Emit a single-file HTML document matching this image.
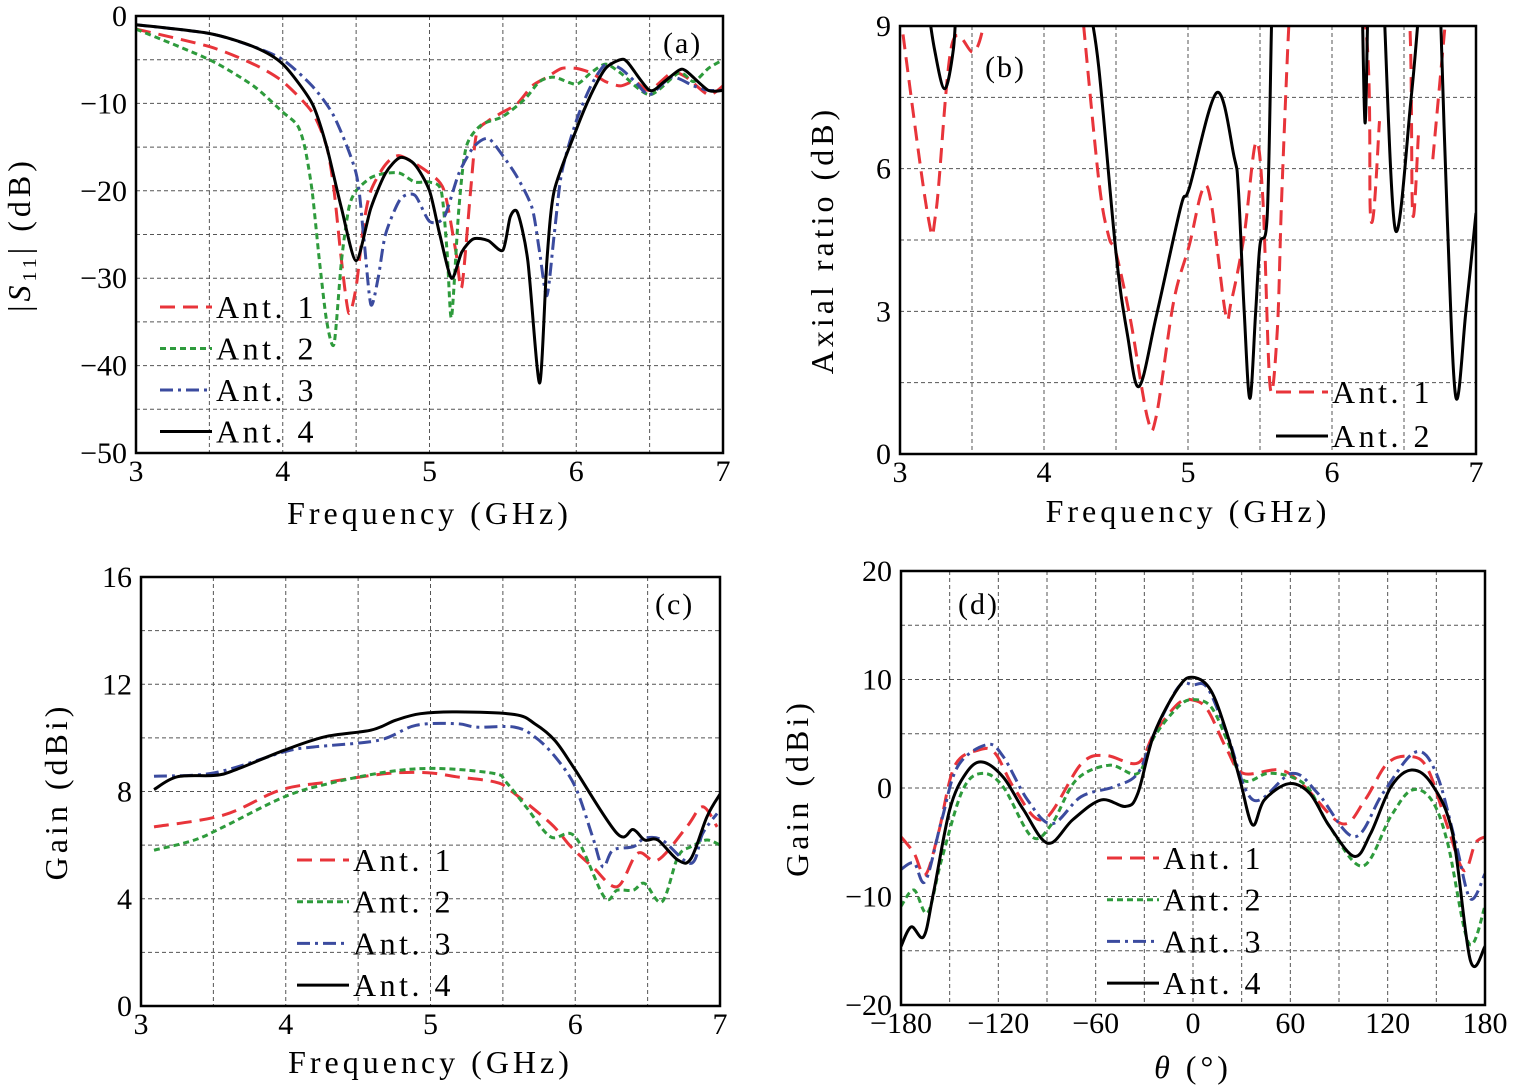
<!DOCTYPE html>
<html><head><meta charset="utf-8"><style>
html,body{margin:0;padding:0;background:#fff;}
svg{display:block;font-family:"Liberation Serif",serif;}
</style></head><body>
<svg id="s" width="1514" height="1086" xmlns="http://www.w3.org/2000/svg"></svg>
<script>
const S=document.getElementById('s');let H='';
const st={1:'stroke="#e8343a" stroke-dasharray="15,8"',2:'stroke="#2e9b3c" stroke-dasharray="6,4"',3:'stroke="#3b4b9f" stroke-dasharray="13,5,3,5"',4:'stroke="#000"'};
function panel(o){
 const {L,R,T,B,x0,x1,y0,y1,id}=o;
 const X=v=>L+(v-x0)/(x1-x0)*(R-L), Y=v=>B-(v-y0)/(y1-y0)*(B-T);
 H+=`<defs><clipPath id="c${id}"><rect x="${L}" y="${T}" width="${R-L}" height="${B-T}"/></clipPath></defs>`;
 for(let v=x0+o.gx;v<x1-1e-9;v+=o.gx)H+=`<line x1="${X(v)}" x2="${X(v)}" y1="${T}" y2="${B}" stroke="#555" stroke-width="1" stroke-dasharray="4,3"/>`;
 for(let v=y0+o.gy;v<y1-1e-9;v+=o.gy)H+=`<line x1="${L}" x2="${R}" y1="${Y(v)}" y2="${Y(v)}" stroke="#555" stroke-width="1" stroke-dasharray="4,3"/>`;
 for(const s of o.series){
  const p=s.d.map(q=>[X(q[0]),Y(q[1])]);let d='';
  for(const seg of (s.segs||[[0,p.length]])){
   const pp=p.slice(seg[0],seg[1]);d+=`M${pp[0][0].toFixed(1)},${pp[0][1].toFixed(1)}`;
   for(let i=0;i<pp.length-1;i++){const a=pp[Math.max(0,i-1)],b=pp[i],c=pp[i+1],e=pp[Math.min(pp.length-1,i+2)];const k=o.sm??6;
    d+=`C${(b[0]+(c[0]-a[0])/k).toFixed(1)},${(b[1]+(c[1]-a[1])/k).toFixed(1)} ${(c[0]-(e[0]-b[0])/k).toFixed(1)},${(c[1]-(e[1]-b[1])/k).toFixed(1)} ${c[0].toFixed(1)},${c[1].toFixed(1)}`;}
  }
  H+=`<path d="${d}" fill="none" stroke-width="3" ${st[s.t]} clip-path="url(#c${id})" stroke-linejoin="round"/>`;
 }
 H+=`<rect x="${L}" y="${T}" width="${R-L}" height="${B-T}" fill="none" stroke="#000" stroke-width="2.5"/>`;
 for(const [v,t] of o.xt)H+=`<text x="${X(v)}" y="${B+28}" font-size="30" text-anchor="middle">${t}</text>`;
 for(const [v,t] of o.yt)H+=`<text x="${L-9}" y="${Y(v)+10}" font-size="30" text-anchor="end">${t}</text>`;
 H+=`<text x="${(L+R)/2}" y="${o.xly}" font-size="32" letter-spacing="4" text-anchor="middle">${o.xl}</text>`;
 H+=`<text transform="translate(${o.ylx},${(T+B)/2}) rotate(-90)" font-size="32" letter-spacing="4" text-anchor="middle">${o.yl}</text>`;
 H+=`<text x="${o.pl[0]}" y="${o.pl[1]}" font-size="30" letter-spacing="2">${o.pl[2]}</text>`;
 o.leg.forEach((t,i)=>{const y=o.lg[1]+i*o.lg[3];const n=o.ln?o.ln[i]:t;H+=`<line x1="${o.lg[0]}" x2="${o.lg[0]+52}" y1="${y}" y2="${y}" stroke-width="3" ${st[t]}/><text x="${o.lg[0]+56}" y="${y+11}" font-size="32" letter-spacing="3.5">Ant. ${n}</text>`;});
}
const M='&#8722;';
panel({id:'a',L:136,R:723,T:16,B:453,x0:3,x1:7,y0:-50,y1:0,gx:0.5,gy:5,sm:8,
xt:[[3,3],[4,4],[5,5],[6,6],[7,7]],yt:[[0,'0'],[-10,M+'10'],[-20,M+'20'],[-30,M+'30'],[-40,M+'40'],[-50,M+'50']],
xl:'Frequency (GHz)',xly:524,yl:'|<tspan font-style="italic">S</tspan><tspan font-size="20" dy="6">11</tspan><tspan dy="-6">| (dB)</tspan>',ylx:30,pl:[663,53,'(a)'],
leg:[1,2,3,4],lg:[160,307,0,41.5],
series:[
{t:1,d:[[3,-1.5],[3.5,-3.5],[3.8,-5.5],[4,-7.5],[4.2,-11],[4.3,-15],[4.35,-20],[4.4,-28],[4.45,-34],[4.5,-31],[4.55,-24],[4.6,-20],[4.7,-17],[4.8,-16],[5,-18],[5.1,-20],[5.18,-27],[5.22,-31],[5.28,-20],[5.32,-13.5],[5.4,-12],[5.5,-11],[5.6,-10],[5.7,-8],[5.8,-7],[5.9,-6],[6,-6],[6.1,-6.5],[6.2,-7.5],[6.3,-8],[6.4,-7.5],[6.5,-8.5],[6.65,-6.5],[6.75,-7],[6.9,-9],[7,-8]]},
{t:2,d:[[3,-1.5],[3.5,-5],[3.8,-8],[4,-11],[4.1,-12.5],[4.15,-15],[4.2,-20],[4.25,-28],[4.3,-35],[4.35,-37.5],[4.4,-28],[4.45,-22],[4.5,-20],[4.6,-18.5],[4.7,-18],[4.8,-18],[4.9,-19],[5,-19],[5.08,-20],[5.12,-27],[5.15,-34.5],[5.2,-22],[5.25,-15],[5.35,-12.5],[5.5,-11.5],[5.65,-9.5],[5.75,-7.5],[5.85,-7],[6,-7.8],[6.1,-6.5],[6.2,-5.5],[6.3,-6.5],[6.5,-9],[6.7,-6.5],[6.8,-7.5],[6.9,-6],[7,-5]]},
{t:3,d:[[3,-1],[3.5,-2],[3.8,-3.5],[4,-5],[4.2,-8],[4.35,-11.5],[4.5,-18],[4.55,-25],[4.6,-33],[4.65,-30],[4.7,-25],[4.8,-21],[4.9,-20.5],[5,-23.5],[5.1,-23],[5.2,-18],[5.3,-15],[5.4,-14],[5.5,-16],[5.6,-18.5],[5.7,-22],[5.75,-27],[5.8,-32],[5.85,-25],[5.9,-18],[6,-12],[6.1,-8],[6.2,-5.5],[6.3,-6],[6.4,-7.5],[6.5,-9],[6.65,-7],[6.8,-8],[6.9,-8.5],[7,-8.5]]},
{t:4,d:[[3,-1],[3.5,-2],[3.8,-3.5],[4,-5.5],[4.2,-10],[4.3,-15],[4.4,-22],[4.5,-28],[4.6,-22],[4.7,-18],[4.8,-16.2],[4.9,-17],[5,-20],[5.07,-25],[5.15,-30],[5.22,-27],[5.3,-25.5],[5.4,-25.7],[5.5,-26.8],[5.55,-23],[5.6,-22.5],[5.67,-28],[5.75,-42],[5.8,-28],[5.85,-20],[6,-13],[6.1,-9],[6.2,-6],[6.3,-5],[6.35,-5.3],[6.5,-8.5],[6.6,-7.5],[6.7,-6.2],[6.75,-6.3],[6.9,-8.5],[7,-8.5]]}]});
panel({id:'b',L:900,R:1476,T:26,B:454,x0:3,x1:7,y0:0,y1:9,gx:0.5,gy:1.5,
xt:[[3,3],[4,4],[5,5],[6,6],[7,7]],yt:[[0,'0'],[3,'3'],[6,'6'],[9,'9']],
xl:'Frequency (GHz)',xly:522,yl:'Axial ratio (dB)',ylx:833,pl:[985,77,'(b)'],
leg:[1,4],ln:[1,2],lg:[1276,392,0,44],
series:[
{t:1,segs:[[0,7],[7,31],[31,35],[35,40]],d:[[3,9.3],[3.19,5.07],[3.25,5.1],[3.36,8.6],[3.51,8.45],[3.58,9],[3.6,9.5],
[4.26,9.5],[4.38,5.77],[4.45,4.57],[4.5,4.23],[4.6,2.83],[4.72,0.74],[4.78,0.8],[4.9,3.2],[5.01,4.4],[5.1,5.55],[5.16,5.3],[5.26,2.97],[5.3,3.2],[5.39,4.6],[5.47,6.54],[5.52,5.35],[5.57,1.42],[5.62,2.6],[5.65,5.35],[5.7,9],[5.72,9.5],
[6.2,9.5],[6.27,4.92],[6.33,7],[6.38,9.5],
[6.53,9.5],[6.56,5.07],[6.6,6.7],[6.7,6.2],[6.8,9.5]]},
{t:4,segs:[[0,5],[5,23],[23,28],[28,32]],d:[[3.19,9.5],[3.24,8.5],[3.31,7.68],[3.37,8.5],[3.39,9.5],
[4.31,9.5],[4.38,8.14],[4.5,4.23],[4.58,2.5],[4.66,1.42],[4.78,2.9],[4.95,5.2],[5.01,5.6],[5.2,7.6],[5.32,6.25],[5.35,5.56],[5.39,3],[5.43,1.17],[5.47,3],[5.5,4.4],[5.55,5],[5.58,9],[5.59,9.6],
[6.21,9.5],[6.23,6.96],[6.25,9.5],[6.26,9.7],[6.27,9.7],
[6.36,9.5],[6.44,4.71],[6.55,7.5],[6.61,9.6]]},
{t:4,d:[[6.75,9.6],[6.8,5],[6.86,1.2],[6.93,3],[7,5.07]]}]});
panel({id:'c',L:141,R:720,T:577,B:1006,x0:3,x1:7,y0:0,y1:16,gx:0.5,gy:2,
xt:[[3,3],[4,4],[5,5],[6,6],[7,7]],yt:[[0,'0'],[4,'4'],[8,'8'],[12,'12'],[16,'16']],
xl:'Frequency (GHz)',xly:1073,yl:'Gain (dBi)',ylx:67,pl:[655,614,'(c)'],
leg:[1,2,3,4],lg:[297,860,0,41.7],
series:[
{t:1,d:[[3.09,6.68],[3.57,7.12],[3.96,8.05],[4.3,8.36],[4.7,8.67],[4.98,8.7],[5.18,8.55],[5.44,8.36],[5.55,8.05],[5.83,6.81],[5.97,5.94],[6.12,5.19],[6.29,4.45],[6.43,5.69],[6.57,5.44],[6.77,6.68],[6.88,7.43],[6.98,6.68]]},
{t:2,d:[[3.09,5.81],[3.37,6.19],[3.57,6.68],[3.99,7.8],[4.3,8.3],[4.7,8.73],[5.04,8.86],[5.44,8.67],[5.52,8.36],[5.66,7.43],[5.83,6.31],[6,6.31],[6.2,4.07],[6.29,4.32],[6.4,4.32],[6.48,4.57],[6.6,3.89],[6.71,5.57],[6.8,5.94],[6.91,6.19],[7,6]]},
{t:3,d:[[3.09,8.57],[3.51,8.7],[3.99,9.48],[4.19,9.66],[4.64,9.91],[4.9,10.47],[5.18,10.53],[5.32,10.4],[5.58,10.4],[5.72,10.04],[5.86,9.3],[6,8.17],[6.12,6.31],[6.19,5.19],[6.26,5.81],[6.4,5.94],[6.48,6.25],[6.6,6.19],[6.8,5.32],[6.88,6.43],[6.98,7.18]]},
{t:4,d:[[3.09,8.07],[3.25,8.55],[3.51,8.6],[3.65,8.8],[3.99,9.54],[4.27,10.04],[4.59,10.29],[4.76,10.66],[4.93,10.9],[5.18,10.97],[5.58,10.87],[5.72,10.53],[5.86,9.9],[6,8.8],[6.29,6.43],[6.4,6.58],[6.48,6.19],[6.57,6.19],[6.71,5.44],[6.8,5.5],[6.91,7.06],[7,7.9]]}]});
panel({id:'d',L:901,R:1485,T:571,B:1005,x0:-180,x1:180,y0:-20,y1:20,gx:30,gy:5,
xt:[[-180,M+'180'],[-120,M+'120'],[-60,M+'60'],[0,'0'],[60,'60'],[120,'120'],[180,'180']],yt:[[-20,M+'20'],[-10,M+'10'],[0,'0'],[10,'10'],[20,'20']],
xl:'<tspan font-style="italic">θ</tspan> (°)',xly:1078,yl:'Gain (dBi)',ylx:808,pl:[958,614,'(d)'],
leg:[1,2,3,4],lg:[1107,858,0,41.7],
series:[
{t:1,d:[[-180,-4.5],[-172,-6],[-165,-8],[-157,-4.2],[-147,2],[-132,3.5],[-122,3.2],[-109.5,-0.2],[-92,-2.9],[-69,2.2],[-54,3],[-34,2.3],[-24,5],[-9,7.8],[0,8.1],[9,7.2],[21,3.5],[31,1.35],[54,1.66],[69,0.1],[92,-3.3],[106,-1.1],[120,2.3],[134.7,2.9],[145,1.66],[157,-3.6],[167,-7.6],[174,-5.1],[180,-4.5]]},
{t:2,d:[[-180,-10.9],[-172,-9.4],[-163.6,-11.5],[-155,-6.6],[-142,-0.2],[-130,1.35],[-117,0.1],[-99.4,-4.5],[-87,-3.3],[-72,0.74],[-51.6,2.1],[-34,1.35],[-24,4.7],[-9,7.5],[0,8.15],[11,7.5],[21,4.4],[31,0.74],[46,1.35],[61,1],[72,-0.2],[84,-3.5],[104.5,-7.2],[122,-2.6],[134.7,-0.2],[147,-1.1],[157,-5.1],[170,-14.3],[180,-10.9]]},
{t:3,d:[[-180,-7.5],[-172,-6.9],[-165,-8.6],[-155,-3],[-145,2],[-127,4],[-117,2.9],[-102,-1.1],[-87,-3.3],[-69,-0.8],[-49,0.1],[-34,1.35],[-24,5],[-9,9.3],[0,9.5],[9,9.2],[21,5],[37,-1.1],[61,1.35],[77,-0.5],[99.5,-4.5],[117,-0.5],[137,3.3],[150,1.35],[162,-5.1],[171,-10.2],[180,-7.9]]},
{t:4,d:[[-180,-14.6],[-173.7,-12.8],[-166,-13.7],[-160,-9.7],[-150,-2],[-140,1.35],[-130,2.4],[-117,1],[-104.5,-2],[-89.4,-5.1],[-74,-2.9],[-56.6,-1.1],[-41.5,-1.7],[-34,-0.5],[-24,5],[-8.8,9.3],[0,10.2],[11,9],[21,5],[29,0.74],[36.7,-3.4],[44,-1.1],[59,0.4],[72,-0.5],[84,-3.5],[99.5,-6.3],[109.5,-4.2],[122,0.1],[134.7,1.66],[147,0.4],[160,-4.2],[171,-15.9],[180,-14.6]]}]});
S.innerHTML=H;
</script>
</body></html>
